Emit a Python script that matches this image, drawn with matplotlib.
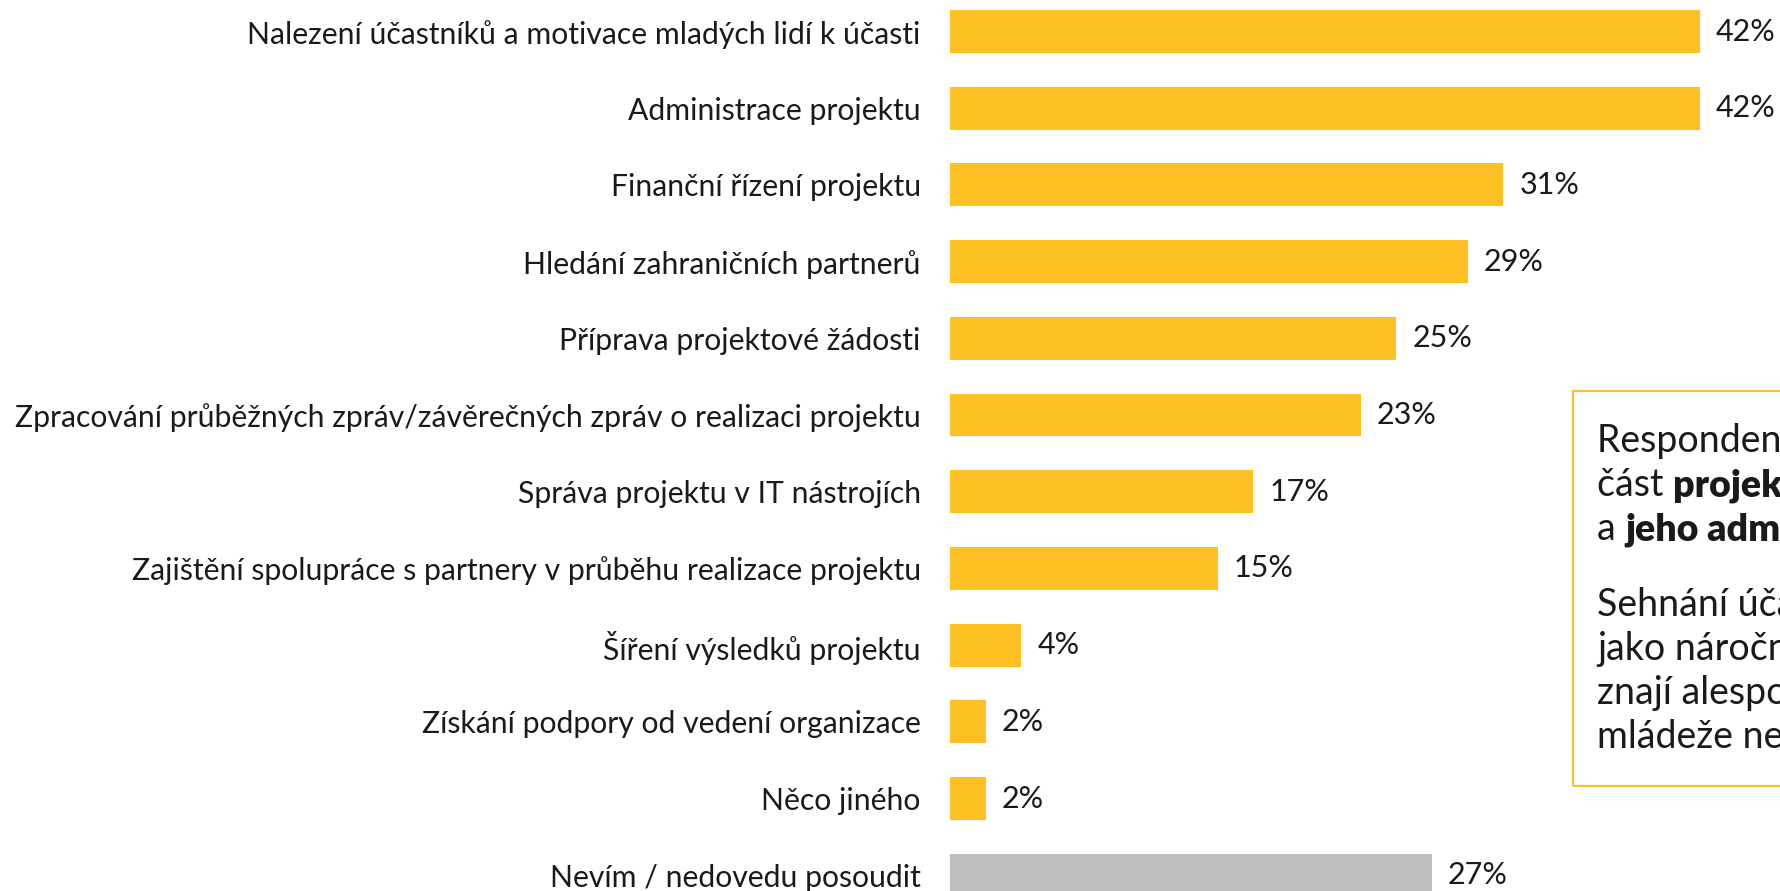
import matplotlib
matplotlib.use('Agg')
from matplotlib import pyplot as plt

# data
categories = [
    'Nalezení účastníků a motivace mladých lidí k účasti',
    'Administrace projektu',
    'Finanční řízení projektu',
    'Hledání zahraničních partnerů',
    'Příprava projektové žádosti',
    'Zpracování průběžných zpráv/závěrečných zpráv o realizaci projektu',
    'Správa projektu v IT nástrojích',
    'Zajištění spolupráce s partnery v průběhu realizace projektu',
    'Šíření výsledků projektu',
    'Získání podpory od vedení organizace',
    'Něco jiného',
    'Nevím / nedovedu posoudit',
]
values = [42, 42, 31, 29, 25, 23, 17, 15, 4, 2, 2, 27]
value_labels = ['42%', '42%', '31%', '29%', '25%', '23%', '17%', '15%', '4%', '2%', '2%', '27%']

YELLOW = '#FEC124'
GREY = '#BFBFBF'
TEXT = '#1A1A1A'
colors = [YELLOW] * 11 + [GREY]

W, H = 1780, 891
fig = plt.figure(figsize=(W / 100, H / 100), dpi=100)
fig.patch.set_facecolor('white')

# axes placed in pixels: bars start at x=950, 17.85 px per percent
px_per_pct = 17.85
xmax = 45
ax = fig.add_axes([950 / W, 0, xmax * px_per_pct / W, 1])
ax.set_xlim(0, xmax)
ax.set_ylim(11.206, -0.411)

pos = list(range(len(categories)))
ax.barh(pos, values, height=0.56, color=colors)

ax.set_yticks(pos)
ax.set_yticklabels(categories, fontsize=21.7, family='Lato', fontweight='normal', color=TEXT)
ax.tick_params(axis='y', length=0, pad=21)
ax.set_xticks([])
for s in ax.spines.values():
    s.set_visible(False)

for p, v, lab in zip(pos, values, value_labels):
    ax.annotate(lab, xy=(v, p), xytext=(11.5, 0), textcoords='offset points',
                va='center', ha='left', fontsize=22, family='Lato',
                fontweight='normal', color=TEXT)

# commentary box on the right (cut off by the figure edge, as in the original)
box = plt.Rectangle((1573 / W, 1 - 786 / H), 400 / W, (786 - 391) / H,
                    transform=fig.transFigure, fill=False, edgecolor=YELLOW, linewidth=1.5)
fig.patches.append(box)

box_lines = [
    [('Respondenti vnímají jako nejnáročnější', 'normal')],
    [('část ', 'normal'), ('projektu a jeho financování', 'heavy')],
    [('a ', 'normal'), ('jeho administraci.', 'heavy')],
    [('Sehnání účastníků vnímají', 'normal')],
    [('jako náročné především ti, kdo', 'normal')],
    [('znají alespoň částečně oblast', 'normal')],
    [('mládeže nebo neformálního vzdělávání.', 'normal')],
]
baselines = [452, 496, 540, 616, 660, 704, 748]

for line, yb in zip(box_lines, baselines):
    last = None
    for txt, wt in line:
        if last is None:
            last = fig.text(1597 / W, 1 - yb / H, txt, fontsize=27, family='Lato',
                            fontweight=wt, color=TEXT, va='baseline', ha='left')
        else:
            last = ax.annotate(txt, xy=(1, 0), xycoords=last, va='bottom', ha='left',
                               fontsize=27, family='Lato', fontweight=wt, color=TEXT,
                               annotation_clip=False)

plt.savefig('out.png', dpi=100)
